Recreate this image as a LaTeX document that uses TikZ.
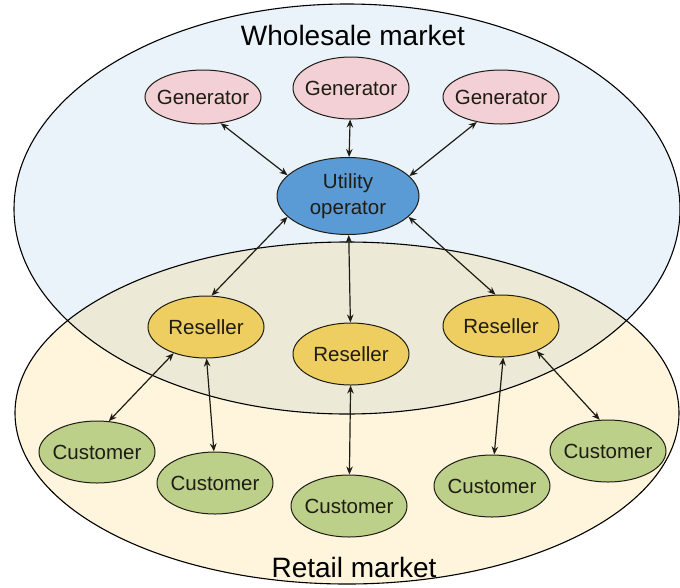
\documentclass[tikz,border=0pt]{standalone}
\usepackage{fontspec}
\setmainfont{Liberation Sans}
\usetikzlibrary{shapes.geometric,arrows.meta}
\definecolor{wholefill}{RGB}{235,243,250}
\definecolor{retailfill}{RGB}{255,245,220}
\definecolor{overlapfill}{RGB}{236,234,214}
\definecolor{genfill}{RGB}{242,208,213}
\definecolor{utilfill}{RGB}{91,155,213}
\definecolor{resfill}{RGB}{238,206,96}
\definecolor{custfill}{RGB}{189,208,138}
\definecolor{edgecol}{RGB}{30,28,20}
\tikzset{
  market/.style={draw=black, line width=1.1pt},
  ent/.style={ellipse, draw=edgecol, line width=1pt, inner sep=0pt,
    minimum width=116pt, minimum height=62pt, text=edgecol,
    font=\fontsize{20.5}{26}\selectfont},
  gen/.style={ent, fill=genfill},
  util/.style={ent, fill=utilfill, minimum width=142pt, minimum height=77pt},
  res/.style={ent, fill=resfill},
  cust/.style={ent, fill=custfill},
  link/.style={<->, >={Stealth[length=8pt,width=6.5pt]}, line width=1.2pt, draw=edgecol},
  title/.style={font=\fontsize{28}{32}\selectfont, text=black}
}
\newcommand{\zw}[1]{\makebox[0pt][c]{#1}}
\begin{document}
\begin{tikzpicture}[x=1pt,y=-1pt]
\useasboundingbox (0,0) rectangle (680,587);
% market ellipses
\fill[wholefill] (347,209) ellipse [x radius=333, y radius=205];
\fill[retailfill] (347,413) ellipse [x radius=332, y radius=171];
\begin{scope}
  \clip (347,209) ellipse [x radius=333, y radius=205];
  \fill[overlapfill] (347,413) ellipse [x radius=332, y radius=171];
\end{scope}
\draw[market] (347,209) ellipse [x radius=333, y radius=205];
\draw[market] (347,413) ellipse [x radius=332, y radius=171];
\node[title] (wl) at (353,35) {Wholesale market};
\node[title] (rl) at (354,567) {Retail market};
% nodes
\node[gen, minimum height=54pt] (g1) at (203,97) {\zw{Generator}};
\node[gen] (g2) at (351,88) {\zw{Generator}};
\node[gen, minimum height=54pt] (g3) at (501,97) {\zw{Generator}};
\node[util] (u) at (348,196) {\zw{\begin{tabular}{@{}c@{}}Utility\\operator\end{tabular}}};
\node[res] (r1) at (206,327) {\zw{Reseller}};
\node[res] (r2) at (351,354) {\zw{Reseller}};
\node[res] (r3) at (501,326) {\zw{Reseller}};
\node[cust] (c1) at (97,452) {\zw{Customer}};
\node[cust] (c2) at (215,483) {\zw{Customer}};
\node[cust] (c3) at (349,506) {\zw{Customer}};
\node[cust] (c4) at (492,486) {\zw{Customer}};
\node[cust] (c5) at (608,451) {\zw{Customer}};
% links
\draw[link] (g1.304) -- (u.161);
\draw[link] (g2) -- (u);
\draw[link] (g3.226) -- (u.18);
\draw[link] (u.199) -- (r1.80);
\draw[link] (u) -- (r2);
\draw[link] (u.341) -- (r3.100);
\draw[link] (r1.219) -- (c1.69);
\draw[link] (r1.271) -- (c2.92);
\draw[link] (r2) -- (c3);
\draw[link] (r3.274) -- (c4.86);
\draw[link] (r3.325) -- (c5.105);
\end{tikzpicture}
\end{document}
